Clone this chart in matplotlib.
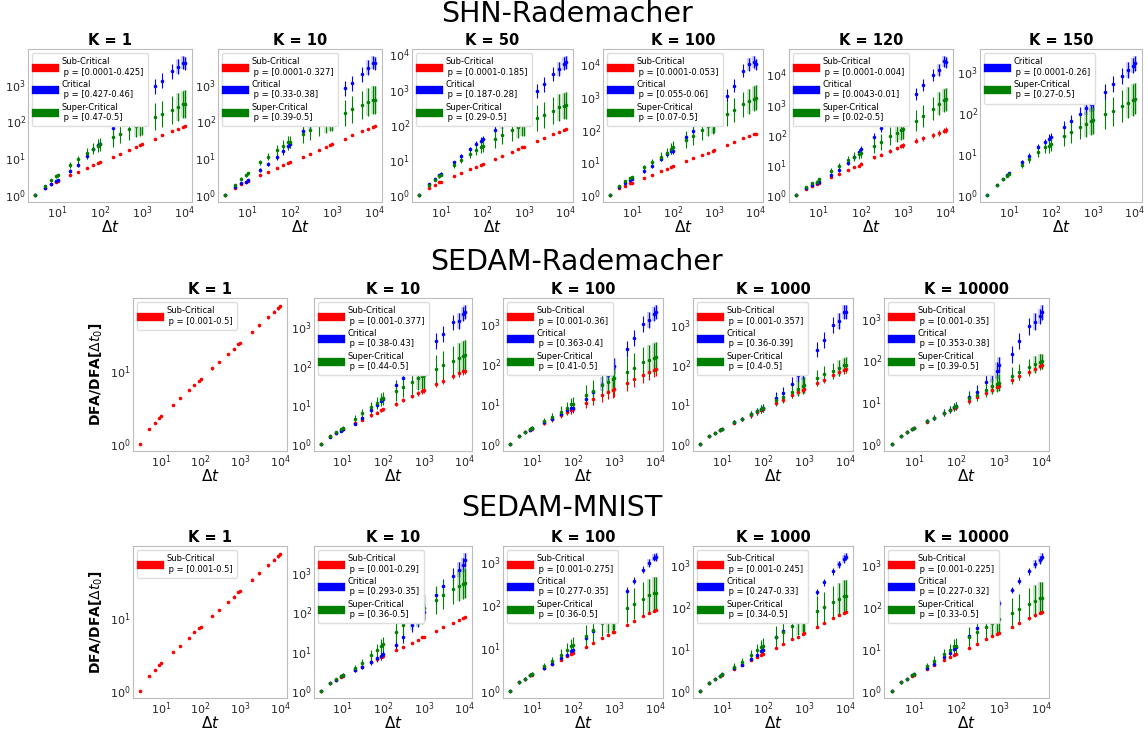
import numpy as np
import matplotlib.pyplot as plt
from matplotlib.lines import Line2D
from matplotlib.ticker import NullFormatter

# Time lags
DT = [3, 5, 7, 9, 10, 20, 30, 50, 70, 90, 100, 200, 300, 500, 700, 900, 1000,
      2000, 3000, 5000, 7000, 9000, 10000]

# Sub-critical curve (nearly identical in most panels)
sub_base = [1, 1.6, 1.95, 2.3, 2.4, 3.4, 4.2, 5.4, 6.4, 7.3, 7.7, 10.8, 13.2, 17, 20, 23, 24,
            34, 42, 54, 64, 72, 76]

# SHN-Rademacher
shn_k1_crit = [1, 1.6, 1.95, 2.35, 2.5, 4.5, 6.7, 11.5, 18, 23, 25, 65, 100, 170, 280, 350, 390,
               900, 1300, 2300, 3100, 4000, 3800]
shn_k1_super = [1, 1.8, 2.5, 3.2, 3.5, 6.5, 9.3, 14, 18, 22, 24, 37, 47, 62, 75, 85, 90,
                135, 160, 200, 250, 290, 300]
shn_k10_crit = [1, 1.7, 2.1, 2.3, 2.6, 4.8, 7, 11, 15.5, 21, 24, 55, 90, 170, 250, 320, 370,
                800, 1100, 1900, 2900, 4000, 3800]
shn_k10_super = [1, 1.9, 2.8, 3.5, 3.9, 7.7, 11, 17, 22, 27, 28, 47, 60, 80, 100, 115, 118,
                 170, 215, 280, 330, 380, 380]
shn_k50_crit = [1, 2.0, 2.9, 3.6, 4.1, 8.5, 12.5, 20, 28, 35, 39, 72, 110, 180, 270, 340, 400,
                900, 1400, 2700, 3800, 5500, 6000]
shn_k50_super = [1, 1.9, 2.7, 3.4, 3.8, 7.2, 10, 15, 19, 23, 25, 40, 52, 70, 85, 100, 105,
                 155, 190, 250, 310, 340, 360]
shn_k100_crit = [1, 1.8, 2.3, 2.9, 3.1, 5.5, 8, 13, 18, 22, 23, 60, 90, 200, 280, 380, 400,
                 1100, 2200, 6500, 10000, 12000, 10000]
shn_k100_super = [1, 1.9, 2.6, 3.3, 3.5, 7, 10, 15, 20, 26, 30, 50, 65, 100, 130, 160, 170,
                  300, 400, 600, 750, 900, 950]
shn_k120_sub = [1, 1.55, 2.0, 2.35, 2.6, 3.9, 5.1, 7, 8.6, 9.5, 11, 18, 22, 29, 35, 42, 44,
                63, 77, 97, 114, 137, 143]
shn_k120_crit = [1, 1.7, 2.1, 2.5, 2.8, 4.7, 6.6, 11.7, 18, 27, 33, 81, 170, 340, 640, 950, 800,
                 2300, 4500, 9800, 14000, 27000, 25000]
shn_k120_super = [1, 1.86, 2.5, 2.8, 3.4, 6.4, 9.5, 14.4, 18.6, 23.5, 25.5, 43, 58, 88, 114, 147, 155,
                  296, 415, 740, 1080, 1400, 1500]
shn_k150_crit = [1, 1.78, 2.46, 3.1, 3.4, 6.4, 9.1, 15, 19.5, 24, 26, 46, 64, 98, 133, 168, 181,
                 330, 510, 810, 1150, 1450, 1650]
shn_k150_super = [1, 1.78, 2.46, 3.0, 3.3, 5.5, 7.8, 11.4, 14.7, 16, 17.4, 28, 34, 46, 53, 64, 68,
                  95, 110, 150, 178, 210, 225]

# SEDAM-Rademacher
rad_k10_crit = [1, 1.5, 1.87, 2.2, 2.36, 3.35, 4.76, 7.3, 10, 13, 14, 32, 50, 98, 130, 160, 200,
                440, 650, 1300, 1400, 2100, 2400]
rad_k10_super = [1, 1.6, 1.98, 2.4, 2.6, 4.5, 6.3, 8.9, 11.2, 14, 14.8, 22.7, 29, 39, 48, 55, 57,
                 84, 104, 137, 160, 183, 187]
rad_k100_crit = [1, 1.6, 2.0, 2.3, 2.45, 3.6, 4.3, 5.8, 7, 7.8, 8.2, 13.5, 20, 32, 55, 80, 90,
                 240, 460, 1000, 1300, 1800, 2000]
rad_k100_super = [1, 1.6, 2.0, 2.4, 2.55, 3.8, 4.7, 6.5, 8.2, 9.8, 10.3, 16.5, 21, 30, 36, 42, 44,
                  65, 82, 110, 125, 145, 150]
rad_k1000_crit = [1, 1.6, 1.95, 2.3, 2.4, 3.5, 4.3, 5.6, 6.7, 7.6, 8.0, 14.5, 19, 33, 55, 65, 100,
                  240, 420, 1000, 1250, 2100, 2100]
rad_k1000_super = [1, 1.6, 1.95, 2.3, 2.4, 3.5, 4.3, 5.6, 6.7, 7.7, 8.1, 12.5, 15, 21, 25, 29, 31,
                   47, 57, 70, 83, 97, 100]
rad_k10000_crit = [1, 1.6, 1.95, 2.3, 2.4, 3.5, 4.3, 5.6, 6.7, 7.6, 8.0, 13.5, 18, 31, 47, 57, 78,
                   140, 290, 650, 850, 1150, 1400]
rad_k10000_super = [1, 1.6, 1.95, 2.3, 2.4, 3.5, 4.3, 5.6, 6.7, 7.7, 8.1, 12.5, 15, 19.5, 24, 28, 29.5,
                    43, 53, 68, 80, 92, 96]

# SEDAM-MNIST
mn_k10_crit = [1, 1.6, 1.95, 2.35, 2.5, 3.4, 4.2, 5.6, 6.8, 7.8, 8.5, 15, 24, 47, 65, 85, 100,
               270, 450, 820, 1200, 1600, 2100]
mn_k10_super = [1, 1.6, 2.0, 2.4, 2.55, 3.8, 5.3, 8, 11, 14, 15.5, 31, 47, 70, 95, 110, 125,
                205, 280, 390, 460, 530, 550]
mn_k100_crit = [1, 1.6, 1.95, 2.35, 2.5, 3.5, 4.3, 6, 7, 8.5, 9, 17, 25, 43, 65, 85, 95,
                210, 360, 650, 920, 1250, 1300]
mn_k100_super = [1, 1.6, 1.95, 2.35, 2.5, 3.8, 5, 7, 9, 11, 12, 19, 26, 37, 45, 53, 57,
                 85, 105, 140, 165, 185, 185]
mn_k1000_crit = [1, 1.6, 1.95, 2.35, 2.5, 3.5, 4.3, 5.9, 7.3, 9, 9.8, 19, 27, 48, 70, 95, 110,
                 230, 390, 720, 1050, 1400, 1600]
mn_k1000_super = [1, 1.6, 1.95, 2.35, 2.5, 3.8, 5, 7.2, 9.3, 11.2, 12.2, 20, 26, 36, 45, 52, 55,
                  80, 100, 135, 155, 185, 190]
mn_k10000_crit = [1, 1.6, 1.95, 2.35, 2.5, 3.5, 4.3, 6.3, 8, 10, 11, 20, 32, 55, 80, 110, 125,
                  250, 420, 700, 1050, 1300, 1550]
mn_k10000_super = [1, 1.6, 1.95, 2.35, 2.5, 3.9, 5.3, 7.5, 9.5, 11.5, 12, 19, 25, 34, 42, 48, 51,
                   72, 90, 115, 140, 160, 165]

# Error bar half widths (log10 units)
err_red = [0, .005, .005, .005, .005, .01, .01, .01, .01, .01, .01, .015, .015, .015, .015, .015, .015,
           .02, .02, .02, .02, .02, .02]
err_low = [0, .01, .01, .015, .015, .02, .03, .03, .04, .04, .04, .05, .05, .06, .06, .07, .07,
           .08, .08, .08, .09, .09, .09]
err_mid = [0, .02, .02, .03, .03, .05, .06, .08, .09, .1, .1, .14, .15, .17, .18, .2, .2,
           .2, .2, .2, .2, .18, .18]
err_high = [0, .03, .03, .04, .04, .08, .1, .13, .15, .17, .17, .25, .27, .3, .31, .33, .33,
            .36, .36, .38, .38, .38, .38]

# Points that carry the wide pale band
band_idx = [14, 15, 16, 20, 21, 22]

# Legend ranges
shn_k = [1, 10, 50, 100, 120, 150]
shn_ranges = [("0.0001-0.425", "0.427-0.46", "0.47-0.5"),
              ("0.0001-0.327", "0.33-0.38", "0.39-0.5"),
              ("0.0001-0.185", "0.187-0.28", "0.29-0.5"),
              ("0.0001-0.053", "0.055-0.06", "0.07-0.5"),
              ("0.0001-0.004", "0.0043-0.01", "0.02-0.5"),
              (None, "0.0001-0.26", "0.27-0.5")]
sedam_k = [1, 10, 100, 1000, 10000]
rad_ranges = [("0.001-0.5", None, None),
              ("0.001-0.377", "0.38-0.43", "0.44-0.5"),
              ("0.001-0.36", "0.363-0.4", "0.41-0.5"),
              ("0.001-0.357", "0.36-0.39", "0.4-0.5"),
              ("0.001-0.35", "0.353-0.38", "0.39-0.5")]
mn_ranges = [("0.001-0.5", None, None),
             ("0.001-0.29", "0.293-0.35", "0.36-0.5"),
             ("0.001-0.275", "0.277-0.35", "0.36-0.5"),
             ("0.001-0.245", "0.247-0.33", "0.34-0.5"),
             ("0.001-0.225", "0.227-0.32", "0.33-0.5")]

NAMES = ["Sub-Critical", "Critical", "Super-Critical"]
COLORS = ["red", "blue", "green"]

# (sub, crit, super) data, error profiles and faded points per panel
shn_data = [(sub_base, shn_k1_crit, shn_k1_super), (sub_base, shn_k10_crit, shn_k10_super),
            (sub_base, shn_k50_crit, shn_k50_super), (sub_base, shn_k100_crit, shn_k100_super),
            (shn_k120_sub, shn_k120_crit, shn_k120_super), (None, shn_k150_crit, shn_k150_super)]
shn_errs = [(err_red, err_mid, err_high)] * 4 + [(err_low, err_mid, err_high), (None, err_mid, err_high)]
shn_faded = [([], [12, 13, 14, 15, 16], []), ([], [12, 13, 14, 15, 16], []),
             ([], [12, 13, 14, 15, 16], []), ([], [13, 14, 15, 16], []),
             ([], [13, 14, 15], []), ([], [], [])]

rad_data = [(sub_base, None, None), (sub_base, rad_k10_crit, rad_k10_super),
            (sub_base, rad_k100_crit, rad_k100_super), (sub_base, rad_k1000_crit, rad_k1000_super),
            (sub_base, rad_k10000_crit, rad_k10000_super)]
rad_errs = [(err_red, None, None), (err_low, err_mid, err_high), (err_mid, err_mid, err_high),
            (err_low, err_mid, err_mid), (err_low, err_mid, err_mid)]
rad_faded = [([], [], []), ([], [13, 14], []), ([], [13], []), ([], [], []), ([], [], [])]

mn_data = [(sub_base, None, None), (sub_base, mn_k10_crit, mn_k10_super),
           (sub_base, mn_k100_crit, mn_k100_super), (sub_base, mn_k1000_crit, mn_k1000_super),
           (sub_base, mn_k10000_crit, mn_k10000_super)]
mn_errs = [(err_red, None, None), (err_red, err_mid, err_high), (err_red, err_low, err_high),
           (err_red, err_low, err_high), (err_red, err_low, err_high)]
mn_faded = [([], [], []), ([], [], [13]), ([], [13, 14], []), ([], [13, 14], []), ([], [13, 14], [])]

# Layout in pixels
W, H = 1148, 731
row1_lr = [(28, 192), (218, 382), (412, 573), (603, 763), (789, 953), (980, 1142)]
row23_lr = [(133, 287), (314, 472), (503, 663), (693, 853), (884, 1049)]


def rect(l, r, t, b):
    return [l / W, 1 - b / H, (r - l) / W, (b - t) / H]


def draw_panel(ax, k, data, errs, faded, ranges):
    x = np.array(DT, dtype=float)
    handles, labels = [], []
    for i in range(3):
        if data[i] is None:
            continue
        y = np.array(data[i], dtype=float)
        f = 10 ** np.array(errs[i])
        lo, hi = y / f, y * f
        fade = np.zeros(len(x), dtype=bool)
        fade[faded[i]] = True
        band = fade.copy()
        if i > 0:
            band[band_idx] = True
        c = COLORS[i]
        ax.vlines(x[band], lo[band], hi[band], color=c, alpha=0.2, lw=3.0, zorder=2)
        ax.vlines(x[~fade], lo[~fade], hi[~fade], color=c, lw=0.8, zorder=3)
        ax.plot(x[~fade], y[~fade], "o", color=c, ms=2.6, mew=0, zorder=4)
        ax.plot(x[fade], y[fade], "o", color=c, ms=2.6, mew=0, alpha=0.35, zorder=4)
        handles.append(Line2D([0], [0], color=c, lw=6))
        labels.append(f"{NAMES[i]}\n p = [{ranges[i]}]")
    ax.set_xscale("log")
    ax.set_yscale("log")
    ax.yaxis.set_minor_formatter(NullFormatter())
    ax.xaxis.set_minor_formatter(NullFormatter())
    ax.tick_params(which="both", length=0, labelsize=8, colors="#262626", pad=1.5)
    for s in ax.spines.values():
        s.set_color("#bcbcbc")
    ax.set_title(f"K = {k}", fontsize=10.5, fontweight="bold", pad=3)
    ax.set_xlabel(r"$\Delta t$", fontsize=11, labelpad=-1)
    ax.legend(handles, labels, loc="upper left", fontsize=6, handlelength=2.2,
              borderpad=0.5, labelspacing=0.4, framealpha=1, edgecolor="#dddddd")


fig = plt.figure(figsize=(W / 100, H / 100), dpi=100)

for j, (l, r) in enumerate(row1_lr):
    ax = fig.add_axes(rect(l, r, 49, 202))
    draw_panel(ax, shn_k[j], shn_data[j], shn_errs[j], shn_faded[j], shn_ranges[j])

for j, (l, r) in enumerate(row23_lr):
    ax = fig.add_axes(rect(l, r, 298, 451))
    draw_panel(ax, sedam_k[j], rad_data[j], rad_errs[j], rad_faded[j], rad_ranges[j])
    if j == 0:
        ax.set_ylabel(r"DFA/DFA[$\Delta t_0$]", fontsize=10, fontweight="bold")

for j, (l, r) in enumerate(row23_lr):
    ax = fig.add_axes(rect(l, r, 546, 698))
    draw_panel(ax, sedam_k[j], mn_data[j], mn_errs[j], mn_faded[j], mn_ranges[j])
    if j == 0:
        ax.set_ylabel(r"DFA/DFA[$\Delta t_0$]", fontsize=10, fontweight="bold")

fig.text(567 / W, 1 - 14 / H, "SHN-Rademacher", fontsize=20.5, ha="center", va="center")
fig.text(577 / W, 1 - 262 / H, "SEDAM-Rademacher", fontsize=20.5, ha="center", va="center")
fig.text(562 / W, 1 - 508 / H, "SEDAM-MNIST", fontsize=20.5, ha="center", va="center")

fig.savefig("out.png", dpi=100)
